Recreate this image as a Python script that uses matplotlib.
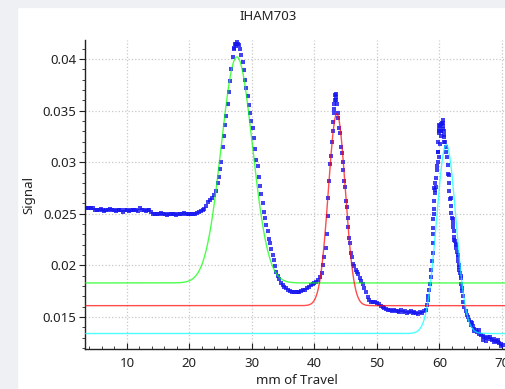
#required libraries
import numpy as np
import matplotlib
matplotlib.use('Agg')
import matplotlib.pyplot as plt
from matplotlib.ticker import MultipleLocator, FuncFormatter
from matplotlib.patches import Rectangle

plt.rcParams['font.family'] = ['Noto Sans', 'DejaVu Sans']

#measured scan points (mm of travel, signal)
scan_x = [3.4, 3.7, 4.0, 4.3, 4.6, 4.9, 5.2, 5.5, 5.8, 6.1, 6.4, 6.7, 7.0, 7.3, 7.6, 7.9,
          8.2, 8.5, 8.8, 9.1, 9.4, 9.7, 10.0, 10.3, 10.6, 10.9, 11.2, 11.5, 11.8, 12.1, 12.4,
          12.7, 13.0, 13.3, 13.6, 13.9, 14.2, 14.5, 14.8, 15.1, 15.5, 15.8, 16.1, 16.4, 16.7,
          17.0, 17.3, 17.6, 17.9, 18.2, 18.5, 18.8, 19.1, 19.4, 19.7, 20.0, 20.3, 20.6, 20.9,
          21.2, 21.5, 21.8, 22.1, 22.4, 22.7, 23.0, 23.3, 23.6, 23.9, 24.2, 24.5, 24.7, 24.9,
          25.1, 25.3, 25.5, 25.7, 25.9, 26.1, 26.3, 26.5, 26.7, 26.9, 27.1, 27.3, 27.5, 27.7,
          27.9, 28.1, 28.3, 28.5, 28.7, 28.9, 29.1, 29.3, 29.5, 29.7, 29.9, 30.1, 30.3, 30.5,
          30.7, 30.9, 31.1, 31.3, 31.5, 31.7, 31.9, 32.1, 32.3, 32.5, 32.7, 32.9, 33.1, 33.3,
          33.5, 33.7, 33.9, 34.1, 34.3, 34.6, 34.9, 35.2, 35.5, 35.8, 36.1, 36.4, 36.7, 37.0,
          37.3, 37.6, 37.9, 38.2, 38.5, 38.8, 39.1, 39.4, 39.7, 40.0, 40.3, 40.6, 40.9, 41.2,
          41.4, 41.6, 41.8, 42.0, 42.1, 42.2, 42.3, 42.5, 42.6, 42.8, 42.9, 43.0, 43.1, 43.2,
          43.3, 43.4, 43.5, 43.6, 43.7, 43.8, 44.0, 44.1, 44.3, 44.4, 44.5, 44.6, 44.8, 44.9,
          45.1, 45.2, 45.3, 45.4, 45.6, 45.7, 45.9, 46.0, 46.2, 46.4, 46.6, 46.8, 47.0, 47.3,
          47.5, 47.8, 48.0, 48.3, 48.5, 48.8, 49.1, 49.4, 49.7, 50.0, 50.3, 50.6, 50.9, 51.2,
          51.5, 51.8, 52.1, 52.4, 52.7, 53.0, 53.3, 53.6, 53.9, 54.2, 54.5, 54.8, 55.1, 55.4,
          55.7, 56.0, 56.3, 56.6, 56.9, 57.2, 57.5, 57.8, 58.0, 58.1, 58.2, 58.4, 58.5, 58.6,
          58.7, 58.8, 58.9, 59.0, 59.0, 59.1, 59.2, 59.3, 59.3, 59.4, 59.5, 59.6, 59.7, 59.8,
          59.8, 59.9, 60.0, 60.1, 60.2, 60.3, 60.4, 60.5, 60.6, 60.7, 60.8, 60.9, 61.0, 61.1,
          61.2, 61.3, 61.4, 61.5, 61.6, 61.7, 61.8, 61.9, 62.0, 62.1, 62.2, 62.3, 62.4, 62.5,
          62.6, 62.7, 62.8, 62.9, 63.0, 63.1, 63.2, 63.3, 63.4, 63.5, 63.6, 63.7, 63.8, 64.0,
          64.2, 64.4, 64.6, 64.8, 65.0, 65.2, 65.4, 65.6, 65.8, 66.0, 66.3, 66.6, 66.9, 67.2,
          67.5, 67.8, 68.1, 68.4, 68.7, 69.0, 69.3, 69.6, 69.9, 70.2]
scan_y = [0.02560, 0.02558, 0.02560, 0.02555, 0.02552, 0.02535, 0.02532, 0.02535, 0.02550,
          0.02532, 0.02530, 0.02535, 0.02533, 0.02550, 0.02532, 0.02535, 0.02530, 0.02533,
          0.02535, 0.02532, 0.02518, 0.02533, 0.02535, 0.02530, 0.02533, 0.02532, 0.02535,
          0.02533, 0.02530, 0.02555, 0.02532, 0.02535, 0.02530, 0.02533, 0.02535, 0.02515,
          0.02500, 0.02502, 0.02498, 0.02500, 0.02512, 0.02495, 0.02500, 0.02485, 0.02502,
          0.02498, 0.02500, 0.02500, 0.02490, 0.02502, 0.02498, 0.02500, 0.02505, 0.02498,
          0.02500, 0.02495, 0.02500, 0.02502, 0.02500, 0.02505, 0.02515, 0.02525, 0.02540,
          0.02550, 0.02575, 0.02610, 0.02630, 0.02650, 0.02680, 0.02720, 0.02800, 0.02860,
          0.02930, 0.03000, 0.03150, 0.03250, 0.03360, 0.03450, 0.03560, 0.03680, 0.03790,
          0.03900, 0.04020, 0.04100, 0.04150, 0.04150, 0.04150, 0.04140, 0.04100, 0.04040,
          0.03970, 0.03890, 0.03800, 0.03720, 0.03640, 0.03550, 0.03480, 0.03400, 0.03330,
          0.03230, 0.03130, 0.03020, 0.02960, 0.02860, 0.02770, 0.02690, 0.02600, 0.02520,
          0.02460, 0.02390, 0.02330, 0.02260, 0.02220, 0.02160, 0.02100, 0.02050, 0.01990,
          0.01940, 0.01900, 0.01870, 0.01830, 0.01810, 0.01790, 0.01780, 0.01760, 0.01750,
          0.01745, 0.01740, 0.01745, 0.01740, 0.01745, 0.01750, 0.01760, 0.01765, 0.01780,
          0.01790, 0.01810, 0.01820, 0.01830, 0.01840, 0.01860, 0.01890, 0.01930, 0.02000,
          0.02080, 0.02170, 0.02300, 0.02480, 0.02650, 0.02820, 0.02980, 0.03060, 0.03200,
          0.03300, 0.03390, 0.03480, 0.03560, 0.03600, 0.03660, 0.03630, 0.03560, 0.03480,
          0.03430, 0.03330, 0.03280, 0.03150, 0.03090, 0.03000, 0.02920, 0.02820, 0.02760,
          0.02620, 0.02570, 0.02460, 0.02370, 0.02270, 0.02220, 0.02120, 0.02080, 0.02010,
          0.01990, 0.01960, 0.01940, 0.01920, 0.01880, 0.01850, 0.01820, 0.01780, 0.01740,
          0.01690, 0.01660, 0.01650, 0.01645, 0.01645, 0.01640, 0.01625, 0.01605, 0.01595,
          0.01590, 0.01575, 0.01570, 0.01565, 0.01560, 0.01570, 0.01555, 0.01560, 0.01550,
          0.01565, 0.01545, 0.01555, 0.01540, 0.01545, 0.01555, 0.01535, 0.01545, 0.01540,
          0.01530, 0.01545, 0.01540, 0.01555, 0.01570, 0.01620, 0.01660, 0.01700, 0.01760,
          0.01820, 0.01890, 0.01960, 0.02040, 0.02120, 0.02220, 0.02360, 0.02500, 0.02620,
          0.02730, 0.02800, 0.02760, 0.02850, 0.02920, 0.03000, 0.03100, 0.03200, 0.03300,
          0.03320, 0.03350, 0.03300, 0.03370, 0.03380, 0.03410, 0.03350, 0.03300, 0.03240,
          0.03200, 0.03150, 0.03100, 0.03050, 0.02970, 0.02890, 0.02800, 0.02720, 0.02640,
          0.02580, 0.02510, 0.02460, 0.02410, 0.02370, 0.02330, 0.02280, 0.02240, 0.02210,
          0.02170, 0.02130, 0.02080, 0.02040, 0.02000, 0.01960, 0.01930, 0.01880, 0.01820,
          0.01780, 0.01700, 0.01650, 0.01600, 0.01560, 0.01520, 0.01500, 0.01470, 0.01450,
          0.01440, 0.01410, 0.01380, 0.01370, 0.01350, 0.01340, 0.01330, 0.01320, 0.01310,
          0.01300, 0.01310, 0.01290, 0.01280, 0.01290, 0.01270, 0.01260, 0.01250, 0.01240,
          0.01230]

#repeated readings where the scan scatters
extra_x = [27.4, 27.6, 27.2, 43.3, 43.4, 43.2, 58.9, 59.0, 59.1, 59.2, 59.3, 59.6, 59.7,
           59.9, 59.9, 60.0, 60.1, 60.2, 60.3, 60.5, 60.6, 60.7, 60.8, 61.5, 61.8, 62.1,
           62.4, 62.6, 62.9, 63.2, 63.4, 63.6, 65.0, 65.6, 66.3, 66.9, 67.5, 68.1, 68.7,
           69.3, 69.9]
extra_y = [0.04130, 0.04160, 0.04110, 0.03650, 0.03600, 0.03520, 0.02300, 0.02450, 0.02550,
           0.02750, 0.02700, 0.02960, 0.03100, 0.03050, 0.03280, 0.03360, 0.03180, 0.03300,
           0.03250, 0.03320, 0.03380, 0.03260, 0.03200, 0.02880, 0.02650, 0.02450, 0.02250,
           0.02200, 0.02100, 0.01980, 0.01900, 0.01750, 0.01420, 0.01360, 0.01370, 0.01280,
           0.01270, 0.01310, 0.01260, 0.01280, 0.01220]

#gaussian fits: baseline, peak height above baseline, centre, width
fit_names = ['peak1', 'peak2', 'peak3']
fit_colors = ['#00ff00', '#ff0000', '#00ffff']
fit_base = [0.0183, 0.0161, 0.0134]
fit_amp = [0.0219, 0.0186, 0.0183]
fit_center = [27.6, 43.6, 61.1]
fit_sigma = [2.5, 1.35, 1.55]

fig = plt.figure(figsize=(5.05, 3.89), dpi=100)
fig.patch.set_facecolor('white')
#grey frame of the window around the plot
fig.patches.append(Rectangle((0, 0), 17/505, 1, transform=fig.transFigure,
                             color='#eef0f3', zorder=0))
fig.patches.append(Rectangle((0, 1 - 7/389), 1, 7/389, transform=fig.transFigure,
                             color='#eef0f3', zorder=0))

ax = fig.add_axes([85/505, 40/389, 430/505, 309/389])
ax.set_xlim(3.3, 72.1)
ax.set_ylim(0.0119, 0.04184)

ax.plot(scan_x, scan_y, 's', color='#1414f0', ms=2.3, mew=0, alpha=0.8, zorder=2)
ax.plot(extra_x, extra_y, 's', color='#1414f0', ms=2.3, mew=0, alpha=0.8, zorder=2)

xfit = np.linspace(3.3, 72.1, 800)
for name, col, b, a, c, s in zip(fit_names, fit_colors, fit_base, fit_amp, fit_center, fit_sigma):
    yfit = b + a * np.exp(-(xfit - c)**2 / (2 * s**2))
    ax.plot(xfit, yfit, color=col, lw=1.0, alpha=0.7, zorder=3)

ax.xaxis.set_major_locator(MultipleLocator(10))
ax.xaxis.set_minor_locator(MultipleLocator(2))
ax.yaxis.set_major_locator(MultipleLocator(0.005))
ax.yaxis.set_minor_locator(MultipleLocator(0.001))
ax.yaxis.set_major_formatter(FuncFormatter(lambda v, p: '%g' % round(v, 4)))
ax.grid(True, which='major', color='#c8c8c8', linestyle=':', linewidth=0.9)
ax.set_axisbelow(True)

for sp in ['top', 'right']:
    ax.spines[sp].set_visible(False)
for sp in ['left', 'bottom']:
    ax.spines[sp].set_color('#222222')
    ax.spines[sp].set_linewidth(1.0)

ax.tick_params(axis='y', which='major', direction='out', length=4, labelsize=9.5,
               colors='#222222', pad=2)
ax.tick_params(axis='y', which='minor', direction='out', length=2, colors='#222222')
ax.tick_params(axis='x', which='major', direction='in', length=4, labelsize=9.5,
               colors='#222222', pad=6)
ax.tick_params(axis='x', which='minor', direction='in', length=2, colors='#222222')

fig.text(268/505, 1 - 16/389, 'IHAM703', ha='center', va='center', fontsize=9.5, color='#222222')
fig.text(297/505, 1 - 381/389, 'mm of Travel', ha='center', va='center', fontsize=9.5,
         color='#222222')
fig.text(29/505, 1 - 195/389, 'Signal', ha='center', va='center', rotation=90,
         fontsize=9.5, color='#222222')

fig.savefig('out.png', dpi=100)
